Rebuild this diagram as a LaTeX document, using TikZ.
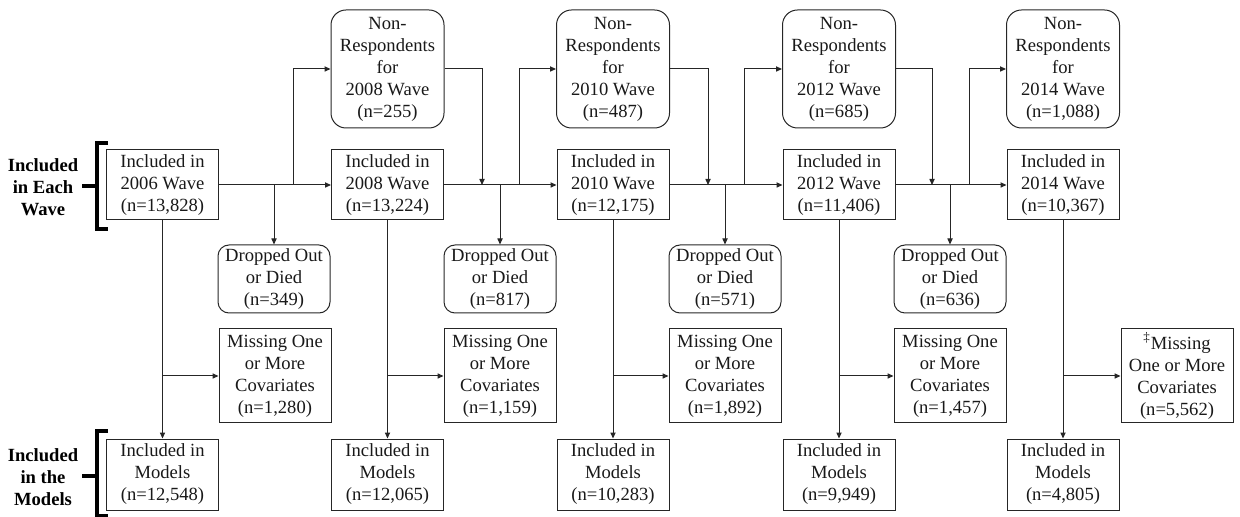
\documentclass[tikz,border=0pt]{standalone}
\usepackage{fontspec}
\setmainfont{Liberation Serif}
\usetikzlibrary{arrows.meta}
\begin{document}
\begin{tikzpicture}[x=0.5pt,y=-0.5pt,
  base/.style={draw=black!85, line width=0.5pt, inner sep=0pt, align=center,
    font=\fontsize{9.3}{11}\selectfont, text=black!90},
  wave/.style={base, minimum width=56pt, minimum height=35pt},
  nonresp/.style={base, rounded corners=7.5pt, minimum width=56.5pt, minimum height=59pt},
  drop/.style={base, rounded corners=5.5pt, minimum width=56pt, minimum height=34pt},
  miss/.style={base, minimum width=56pt, minimum height=47pt},
  model/.style={base, minimum width=56pt, minimum height=35.5pt},
  arr/.style={line width=0.5pt, draw=black!85, -{Triangle[length=3pt,width=2.6pt]}},
  brk/.style={line width=1.6pt, draw=black},
  lab/.style={font=\bfseries\fontsize{9.3}{11}\selectfont, align=center, inner sep=0pt}
]
\useasboundingbox (0,0) rectangle (1240,517);

% wave boxes
\node[wave] (w06) at (162.5,185) {Included in\\2006 Wave\\(n=13,828)};
\node[wave] (w08) at (387.5,185) {Included in\\2008 Wave\\(n=13,224)};
\node[wave] (w10) at (613,185) {Included in\\2010 Wave\\(n=12,175)};
\node[wave] (w12) at (839,185) {Included in\\2012 Wave\\(n=11,406)};
\node[wave] (w14) at (1063,185) {Included in\\2014 Wave\\(n=10,367)};

% non-respondents
\node[nonresp] (n08) at (387.5,69) {Non-\\Respondents\\for\\2008 Wave\\(n=255)};
\node[nonresp] (n10) at (613,69) {Non-\\Respondents\\for\\2010 Wave\\(n=487)};
\node[nonresp] (n12) at (839,69) {Non-\\Respondents\\for\\2012 Wave\\(n=685)};
\node[nonresp] (n14) at (1063,69) {Non-\\Respondents\\for\\2014 Wave\\(n=1,088)};

% dropped
\node[drop] (d1) at (274,279) {Dropped Out\\or Died\\(n=349)};
\node[drop] (d2) at (500,279) {Dropped Out\\or Died\\(n=817)};
\node[drop] (d3) at (725,279) {Dropped Out\\or Died\\(n=571)};
\node[drop] (d4) at (950,279) {Dropped Out\\or Died\\(n=636)};

% missing
\node[miss] (m1) at (275,376) {Missing One\\or More\\Covariates\\(n=1,280)};
\node[miss] (m2) at (500,376) {Missing One\\or More\\Covariates\\(n=1,159)};
\node[miss] (m3) at (725,376) {Missing One\\or More\\Covariates\\(n=1,892)};
\node[miss] (m4) at (950,376) {Missing One\\or More\\Covariates\\(n=1,457)};
\node[miss] (m5) at (1177,376) {\textsuperscript{‡}Missing\\One or More\\Covariates\\(n=5,562)};

% models
\node[model] (f06) at (162.5,474.5) {Included in\\Models\\(n=12,548)};
\node[model] (f08) at (387.5,474.5) {Included in\\Models\\(n=12,065)};
\node[model] (f10) at (613,474.5) {Included in\\Models\\(n=10,283)};
\node[model] (f12) at (839,474.5) {Included in\\Models\\(n=9,949)};
\node[model] (f14) at (1063,474.5) {Included in\\Models\\(n=4,805)};

% branch coordinates
\coordinate (u1) at (293,185);
\coordinate (u2) at (519,185);
\coordinate (u3) at (744,185);
\coordinate (u4) at (969,185);
\coordinate (v2) at (482,185);
\coordinate (v3) at (708,185);
\coordinate (v4) at (932,185);

% main row
\draw[arr] (w06.east) -- (w08.west);
\draw[arr] (w08.east) -- (w10.west);
\draw[arr] (w10.east) -- (w12.west);
\draw[arr] (w12.east) -- (w14.west);

% drop branches
\draw[arr] (w06.east -| d1.north) -- (d1.north);
\draw[arr] (w08.east -| d2.north) -- (d2.north);
\draw[arr] (w10.east -| d3.north) -- (d3.north);
\draw[arr] (w12.east -| d4.north) -- (d4.north);

% to non-respondents
\draw[arr] (u1) |- (n08.west);
\draw[arr] (u2) |- (n10.west);
\draw[arr] (u3) |- (n12.west);
\draw[arr] (u4) |- (n14.west);

% back from non-respondents
\draw[arr] (n08.east) -| (v2);
\draw[arr] (n10.east) -| (v3);
\draw[arr] (n12.east) -| (v4);

% vertical to models
\draw[arr] (w06.south) -- (f06.north);
\draw[arr] (w08.south) -- (f08.north);
\draw[arr] (w10.south) -- (f10.north);
\draw[arr] (w12.south) -- (f12.north);
\draw[arr] (w14.south) -- (f14.north);

% to missing
\draw[arr] (w06.south |- m1.west) -- (m1.west);
\draw[arr] (w08.south |- m2.west) -- (m2.west);
\draw[arr] (w10.south |- m3.west) -- (m3.west);
\draw[arr] (w12.south |- m4.west) -- (m4.west);
\draw[arr] (w14.south |- m5.west) -- (m5.west);

% brackets and labels
\node[lab] (lw) at (43,187) {Included\\in Each\\Wave};
\node[lab] (lm) at (43,477) {Included\\in the\\Models};
\draw[brk] (108,143) -- (97,143) -- (97,229) -- (108,229);
\draw[brk] (82,186) -- (97,186);
\draw[brk] (108,431) -- (97,431) -- (97,516) -- (108,516);
\draw[brk] (82,476) -- (97,476);
\end{tikzpicture}
\end{document}
